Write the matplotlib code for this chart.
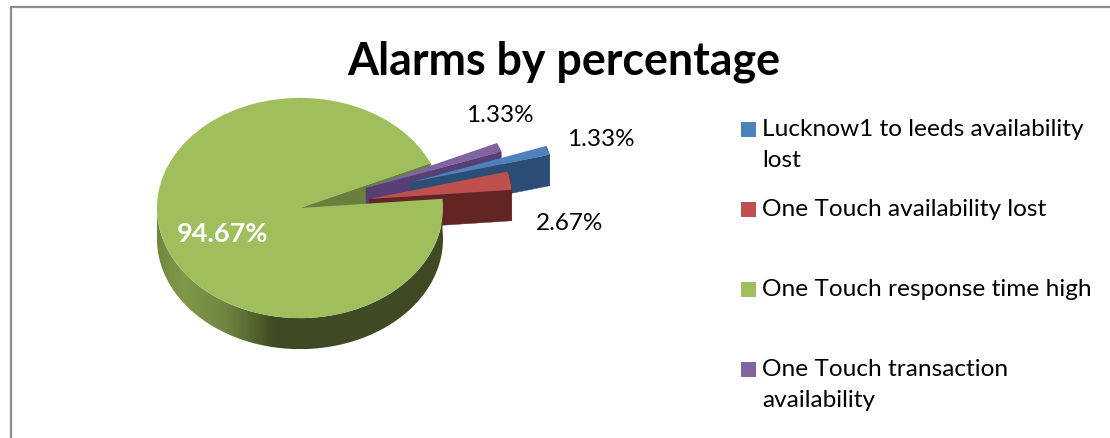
import numpy as np
import matplotlib
matplotlib.use('Agg')
import matplotlib.pyplot as plt
from matplotlib.colors import LinearSegmentedColormap
from matplotlib.lines import Line2D
from matplotlib.patches import Polygon, Rectangle

labels = ['Lucknow1 to leeds availability\nlost', 'One Touch availability lost',
          'One Touch response time high', 'One Touch transaction\navailability']
values = [1.33, 2.67, 94.67, 1.33]
colors = ['#4f81bd', '#c0504d', '#9fbe5c', '#8064a2']
side_colors = ['#2c4d75', '#632523', '#3f4a24', '#553f73']
explode = [116, 70, 0, 71]

W, H = 1110, 438
TILT = 0.77
DEPTH = 31 / TILT
RADIUS = 143

plt.rcParams['font.family'] = ['Lato', 'DejaVu Sans']
fig = plt.figure(figsize=(W / 100, H / 100), dpi=100)
ax = fig.add_axes([0, 0, 1, 1])


def px(x, y):
    return x / W, 1 - y / H


wedges, _ = ax.pie(values, explode=explode, colors=colors, startangle=19.2, counterclock=False,
                   center=(300, (H - 208) / TILT), radius=RADIUS)


def rim_point(w, deg):
    t = np.radians(deg)
    return w.center[0] + w.r * np.cos(t), w.center[1] + w.r * np.sin(t)


def draw_wall(w, color, z):
    # flat cut face, on the lower radial edge of the slice
    x, y = rim_point(w, w.theta1)
    cx, cy = w.center
    ax.add_patch(Polygon([(cx, cy), (x, y), (x, y - DEPTH), (cx, cy - DEPTH)], closed=True,
                         facecolor=color, edgecolor=color, lw=0.3, zorder=z))


def draw_rim(w, color, z, shade=None):
    # the big slice only shows its rim on the front half
    lo = -180 if w.theta2 - w.theta1 > 180 else w.theta1
    angles = np.linspace(lo, w.theta2, 200)
    xs, ys = rim_point(w, angles)
    pts = list(zip(xs, ys)) + list(zip(xs[::-1], ys[::-1] - DEPTH))
    if shade is None:
        ax.add_patch(Polygon(pts, closed=True, facecolor=color, edgecolor=color, lw=0.3, zorder=z))
        return
    poly = Polygon(pts, closed=True, facecolor='none', edgecolor='none', transform=ax.transData)
    ax.add_patch(poly)
    img = ax.imshow(np.linspace(0, 1, 300).reshape(1, -1), cmap=shade, aspect='auto', zorder=z,
                    extent=(xs.min(), xs.max(), ys.min() - DEPTH, ys.max()))
    img.set_clip_path(poly)


# excel shades the big slice from left to right
green_side = LinearSegmentedColormap.from_list('green_side', [(0, '#6f873f'), (0.09, '#7f9a4a'),
                                                              (0.24, '#6f8541'), (0.33, '#55672f'),
                                                              (0.41, '#3f4a24'), (1, '#3f4a24')])

# back to front: green cut face, purple, blue, red, then the big slice
blue, red, green, purple = wedges
draw_wall(green, '#6a7f3d', 1)
z = 2
for w, c in [(purple, side_colors[3]), (blue, side_colors[0]), (red, side_colors[1])]:
    draw_rim(w, c, z)
    draw_wall(w, c, z)
    w.set_zorder(z + 1)
    z += 2
draw_rim(green, side_colors[2], z, shade=green_side)
green.set_zorder(z + 1)

ax.set_aspect('auto')
ax.set_xlim(0, W)
ax.set_ylim(0, H / TILT)
ax.axis('off')

fig.add_artist(Line2D([10.5 / W, 10.5 / W, 1], [0, 1 - 6.5 / H, 1 - 6.5 / H], color='#8c8c8c', lw=1.6))

fig.text(*px(564, 62), 'Alarms by percentage', fontsize=32.2, fontweight='bold', ha='center', va='center')

fig.text(*px(500, 115), f'{values[3]:.2f}%', fontsize=17.5, ha='center', va='center')
fig.text(*px(601, 139), f'{values[0]:.2f}%', fontsize=17.5, ha='center', va='center')
fig.text(*px(570, 224), f'{values[1]:.2f}%', fontsize=17.5, ha='center', va='center')
fig.text(*px(223, 234), f'{values[2]:.2f}%', fontsize=19.5, fontweight='bold', color='white',
         ha='center', va='center')

for i, (lab, c) in enumerate(zip(labels, colors)):
    y = 129.5 + 80 * i
    fig.add_artist(Rectangle(px(741, y + 7.5), 15 / W, 15 / H, facecolor=c, edgecolor='none',
                             transform=fig.transFigure))
    fig.text(*px(762, y - 10), lab, fontsize=17.6, va='top', linespacing=1.58)

fig.savefig('out.png', dpi=100)
